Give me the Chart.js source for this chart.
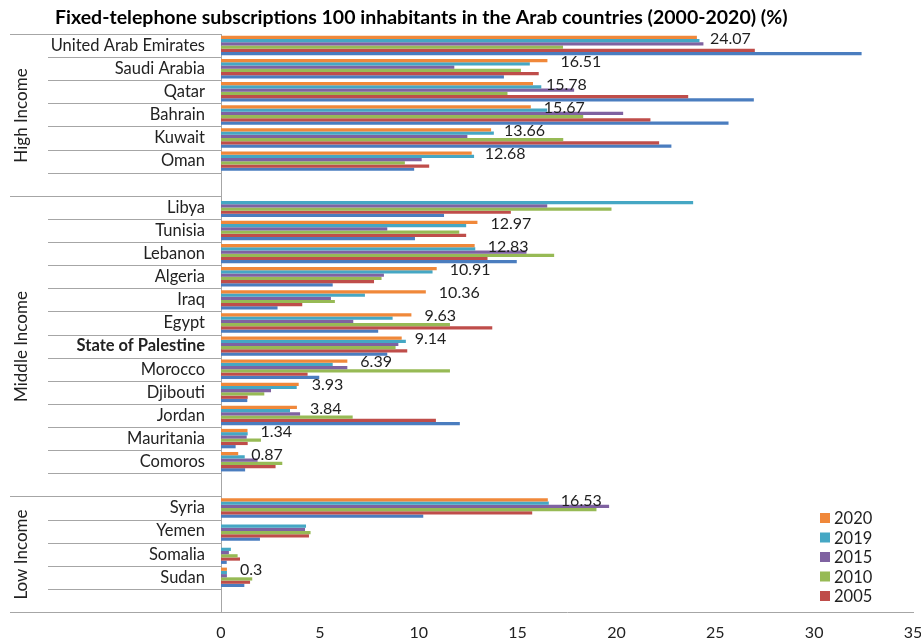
<!DOCTYPE html>
<html>
<head>
<meta charset="utf-8">
<title>Fixed-telephone subscriptions</title>
<script src="https://cdn.jsdelivr.net/npm/chart.js@4.4.1/dist/chart.umd.min.js"></script>
<style>
  html, body { margin: 0; padding: 0; background: #fff; }
  #wrap { width: 921px; height: 641px; }
</style>
</head>
<body>
<div id="wrap"><canvas id="graph1"></canvas></div>
<script>
// countries top to bottom, "" = spacer row at the end of an income group
const countries = [
  "United Arab Emirates", "Saudi Arabia", "Qatar", "Bahrain", "Kuwait", "Oman", "",
  "Libya", "Tunisia", "Lebanon", "Algeria", "Iraq", "Egypt", "State of Palestine",
  "Morocco", "Djibouti", "Jordan", "Mauritania", "Comoros", "",
  "Syria", "Yemen", "Somalia", "Sudan", ""
];
const groupNames = ["High Income", "Middle Income", "Low Income"];
const groupSizes = [7, 13, 5];

const years = ["2020", "2019", "2015", "2010", "2005", "2000"];
const colours = ["#F0883A", "#45A7C4", "#7F62A1", "#97BA55", "#BF4D4A", "#4A7DBF"];

const v2020 = [24.07, 16.51, 15.78, 15.67, 13.66, 12.68, null,
  null, 12.97, 12.83, 10.91, 10.36, 9.63, 9.14, 6.39, 3.93, 3.84, 1.34, 0.87, null,
  16.53, null, null, 0.3, null];
const v2019 = [24.2, 15.62, 16.2, 16.5, 13.8, 12.8, null,
  23.88, 12.4, 12.86, 10.7, 7.28, 8.68, 9.35, 5.65, 3.83, 3.49, 1.35, 1.2, null,
  16.58, 4.3, 0.5, 0.3, null];
const v2015 = [24.4, 11.8, 17.86, 20.34, 12.46, 10.15, null,
  16.5, 8.41, 15.45, 8.24, 5.56, 6.69, 8.97, 6.39, 2.53, 4.0, 1.3, 1.85, null,
  19.63, 4.25, 0.4, 0.3, null];
const v2010 = [17.3, 15.17, 14.49, 18.32, 17.31, 9.3, null,
  19.75, 12.05, 16.85, 8.12, 5.76, 11.58, 8.83, 11.58, 2.19, 6.66, 2.02, 3.1, null,
  18.99, 4.53, 0.84, 1.58, null];
const v2005 = [27.0, 16.07, 23.63, 21.72, 22.16, 10.53, null,
  14.66, 12.4, 13.48, 7.74, 4.11, 13.72, 9.42, 4.38, 1.35, 10.87, 1.35, 2.76, null,
  15.74, 4.45, 0.96, 1.47, null];
const v2000 = [32.4, 14.31, 26.95, 25.67, 22.78, 9.77, null,
  11.28, 9.81, 14.96, 5.65, 2.86, 7.95, 8.41, 4.97, 1.33, 12.08, 0.74, 1.22, null,
  10.23, 1.97, 0.29, 1.18, null];
const series = [v2020, v2019, v2015, v2010, v2005, v2000];
const legendCount = 5; // 2000 is not listed in the key

const xMin = 0, xMax = 35, xStep = 5;

const chartTitle = "Fixed-telephone subscriptions 100 inhabitants in the Arab countries (2000-2020) (%)";

const FONT = "Lato";
const LINE = "#a6a6a6";

// title sits left of centre, above the country column
const heading = {
  id: "heading",
  afterDraw(chart) {
    const ctx = chart.ctx;
    ctx.save();
    ctx.font = "bold 19.5px " + FONT;
    ctx.fillStyle = "#000";
    ctx.textAlign = "left";
    ctx.textBaseline = "middle";
    ctx.fillText(chartTitle, 55, 18);
    ctx.restore();
  }
};

// lines and rotated group names in the left margin
const groupAxis = {
  id: "groupAxis",
  afterDraw(chart) {
    const ctx = chart.ctx, y = chart.scales.y, area = chart.chartArea;
    const half = (y.getPixelForValue(1) - y.getPixelForValue(0)) / 2;
    const edge = k => Math.round(y.getPixelForValue(k) - half) + 0.5;
    ctx.save();
    ctx.strokeStyle = LINE;
    ctx.lineWidth = 1;
    ctx.fillStyle = "#222";
    ctx.font = "17px " + FONT;
    ctx.textAlign = "center";
    ctx.textBaseline = "middle";
    let start = 0;
    groupSizes.forEach((size, g) => {
      for (let k = start; k <= start + size; k++) {
        const outer = k === start || k === start + size;
        ctx.beginPath();
        ctx.moveTo(outer ? 10 : 48, edge(k));
        ctx.lineTo(area.left, edge(k));
        ctx.stroke();
      }
      const mid = (edge(start) + edge(start + size)) / 2;
      ctx.save();
      ctx.translate(22, mid);
      ctx.rotate(-Math.PI / 2);
      ctx.fillText(groupNames[g], 0, 0);
      ctx.restore();
      start += size;
    });
    ctx.restore();
  }
};

// 2020 values written after the bars
const valueLabels = {
  id: "valueLabels",
  afterDatasetsDraw(chart) {
    const ctx = chart.ctx;
    const meta = chart.getDatasetMeta(0);
    ctx.save();
    ctx.font = "16px " + FONT;
    ctx.fillStyle = "#1f1f1f";
    ctx.textAlign = "left";
    ctx.textBaseline = "middle";
    meta.data.forEach((bar, i) => {
      const v = v2020[i];
      if (v === null) return;
      ctx.fillText(String(v), bar.x + 13, bar.y + 1);
    });
    ctx.restore();
  }
};

// key in the lower right corner of the plot
const cornerLegend = {
  id: "cornerLegend",
  afterDraw(chart) {
    const ctx = chart.ctx, area = chart.chartArea;
    const x0 = area.right - 93, y0 = area.bottom - 94;
    ctx.save();
    ctx.font = "16.5px " + FONT;
    ctx.textAlign = "left";
    ctx.textBaseline = "middle";
    chart.data.datasets.slice(0, legendCount).forEach((ds, i) => {
      const yy = y0 + i * 19.5;
      ctx.fillStyle = ds.backgroundColor;
      ctx.fillRect(x0, yy - 5, 10, 10);
      ctx.fillStyle = "#1f1f1f";
      ctx.fillText(ds.label, x0 + 14, yy + 1);
    });
    ctx.restore();
  }
};

new Chart(document.getElementById("graph1"), {
  type: "bar",
  data: {
    labels: countries,
    datasets: years.map((yr, i) => ({
      label: yr,
      data: series[i],
      backgroundColor: colours[i],
      borderWidth: 0,
      categoryPercentage: 0.84,
      barPercentage: 1.0
    }))
  },
  options: {
    indexAxis: "y",
    responsive: true,
    maintainAspectRatio: false,
    animation: false,
    layout: { padding: { left: 10, right: 8, top: 34, bottom: 0 } },
    plugins: {
      legend: { display: false },
      tooltip: { enabled: false },
      title: { display: false }
    },
    scales: {
      x: {
        min: xMin,
        max: xMax,
        grid: { display: false, drawTicks: false },
        border: { display: true, color: LINE },
        afterFit(scale) {
          scale.height = 29;
          scale.paddingLeft = 0;
          scale.paddingRight = 0;
        },
        ticks: {
          stepSize: xStep,
          padding: 11,
          color: "#222",
          font: { family: FONT, size: 16 }
        }
      },
      y: {
        grid: { display: false, drawTicks: false },
        border: { display: true, color: LINE },
        afterFit(scale) {
          scale.width = 211;
          scale.paddingTop = 0;
          scale.paddingBottom = 0;
        },
        ticks: {
          autoSkip: false,
          padding: 16,
          color: "#222",
          font: ctx => ({
            family: FONT,
            size: 16.5,
            weight: ctx.tick && ctx.tick.label === "State of Palestine" ? "bold" : "normal"
          })
        }
      }
    }
  },
  plugins: [heading, groupAxis, valueLabels, cornerLegend]
});
</script>
</body>
</html>
